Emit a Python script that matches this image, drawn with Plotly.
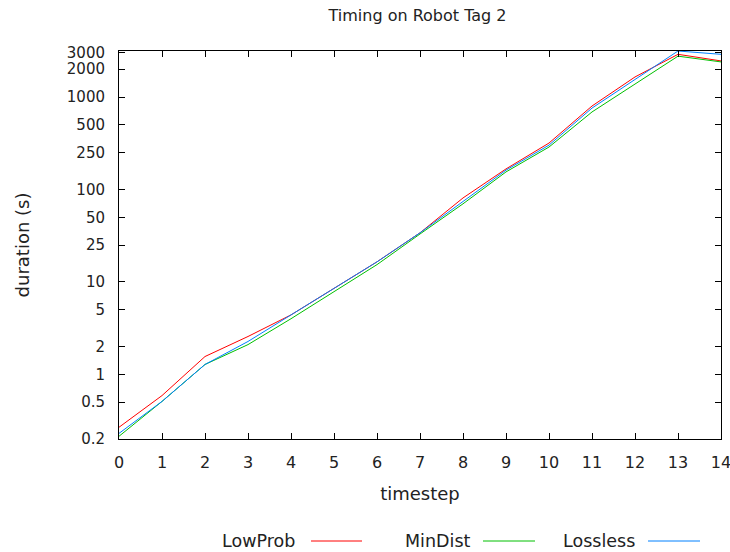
import math
import plotly.graph_objects as go

timesteps = list(range(15))
low_prob = [0.268, 0.59, 1.56, 2.57, 4.4, 8.5, 16.5, 34, 81, 167, 318, 800, 1650, 2900, 2460]
min_dist = [0.214, 0.51, 1.28, 2.1, 4.0, 7.8, 15.4, 33, 70, 155, 288, 690, 1380, 2770, 2400]
lossless = [0.23, 0.51, 1.28, 2.27, 4.4, 8.6, 16.5, 34, 75, 162, 302, 760, 1550, 3150, 2900]
y_ticks = [0.2, 0.5, 1, 2, 5, 10, 25, 50, 100, 250, 500, 1000, 2000, 3000]
y_tick_text = ["0.2", "0.5", "1", "2", "5", "10", "25", "50", "100", "250", "500", "1000", "2000", "3000"]
series = [("LowProb", low_prob, "#ff0000"), ("MinDist", min_dist, "#00c000"), ("Lossless", lossless, "#0080ff")]

FONT = "DejaVu Sans"
TXT = "#222222"
W, H = 730, 552
L, R, T, B = 119, 9, 51, 113
pw, ph = W - L - R, H - T - B

def px(x):
    return (x - L) / pw

def py(y):
    return (H - B - y) / ph

fig = go.Figure()
for name, vals, col in series:
    fig.add_trace(go.Scatter(x=timesteps, y=vals, mode="lines", name=name,
                             line=dict(color=col, width=1), showlegend=False))

# manual legend (text left of line, gnuplot style)
legend_pos = [(297, 311, 362), (473, 483, 535), (637, 648, 700)]
ly = 541
for (name, _, col), (tx, x0, x1) in zip(series, legend_pos):
    fig.add_annotation(x=px(tx), y=py(ly), xref="paper", yref="paper", text=name,
                       showarrow=False, xanchor="right", yanchor="middle",
                       font=dict(family=FONT, size=17.5, color=TXT))
    fig.add_shape(type="line", xref="paper", yref="paper", x0=px(x0), x1=px(x1),
                  y0=py(ly), y1=py(ly), line=dict(color=col, width=1))

axis_common = dict(showline=True, linecolor="black", linewidth=1, mirror="ticks",
                   ticks="inside", ticklen=6, tickcolor="black", showgrid=False,
                   zeroline=False, automargin=False)

fig.update_layout(
    width=W, height=H,
    margin=dict(l=L, r=R, t=T, b=B, autoexpand=False),
    paper_bgcolor="white", plot_bgcolor="white",
    title=dict(text="Timing on Robot Tag 2", xref="container", x=417.5 / W, xanchor="center",
               y=1 - 15 / H, yanchor="middle", font=dict(family=FONT, size=16, color=TXT)),
    xaxis=dict(range=[0, 14], tickmode="array", tickvals=timesteps,
               tickfont=dict(family=FONT, size=16, color=TXT),
               title=dict(text="timestep", font=dict(family=FONT, size=18, color=TXT), standoff=16),
               ticklabelstandoff=9, ticklabeloverflow="allow", **axis_common),
    yaxis=dict(type="log", range=[math.log10(0.2), math.log10(3150)], tickmode="array",
               tickvals=y_ticks, ticktext=y_tick_text,
               tickfont=dict(family=FONT, size=15, color=TXT),
               title=dict(text="duration (s)", font=dict(family=FONT, size=18, color=TXT), standoff=32),
               ticklabelstandoff=10, **axis_common),
)

fig.write_html("out.html")
